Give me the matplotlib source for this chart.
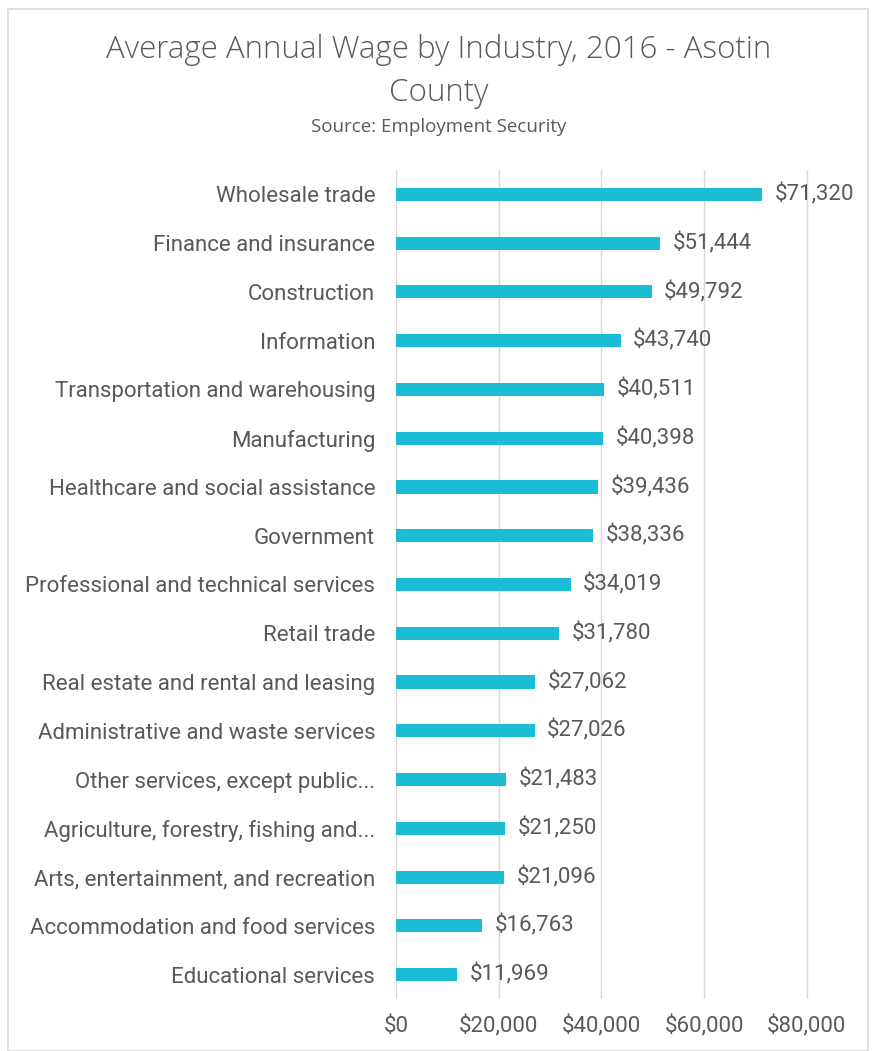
import matplotlib
matplotlib.use('Agg')
import matplotlib.pyplot as plt
from matplotlib.patches import Rectangle

# --- DATA ---
industries = ["Wholesale trade", "Finance and insurance", "Construction", "Information",
              "Transportation and warehousing", "Manufacturing", "Healthcare and social assistance",
              "Government", "Professional and technical services", "Retail trade",
              "Real estate and rental and leasing", "Administrative and waste services",
              "Other services, except public...", "Agriculture, forestry, fishing and...",
              "Arts, entertainment, and recreation", "Accommodation and food services",
              "Educational services"]
wages = [71320, 51444, 49792, 43740, 40511, 40398, 39436, 38336, 34019, 31780,
         27062, 27026, 21483, 21250, 21096, 16763, 11969]
x_ticks = [0, 20000, 40000, 60000, 80000]

BAR_COLOR = '#1bbcd6'
TEXT_COLOR = '#595959'
W, H = 877, 1051

fig = plt.figure(figsize=(W / 100, H / 100), dpi=100)

# chart frame
fig.patches.append(Rectangle((8 / W, 0), (868 - 8) / W, (H - 9) / H, transform=fig.transFigure,
                             fill=False, edgecolor='#d9d9d9', linewidth=1.2))

ax = fig.add_axes([396 / W, (H - 999) / H, (858 - 396) / W, (999 - 170) / H])
y = list(range(len(industries)))
ax.barh(y, wages, height=0.27, color=BAR_COLOR, zorder=3)
ax.set_ylim(len(industries) - 0.5, -0.5)
ax.set_xlim(0, 90000)

ax.set_xticks(x_ticks)
ax.set_xticklabels([f"${v:,}" for v in x_ticks], fontsize=16, color=TEXT_COLOR, family='Roboto')
ax.set_yticks(y)
ax.set_yticklabels(industries, fontsize=16, color=TEXT_COLOR, family='Roboto')
ax.tick_params(axis='both', length=0)
ax.tick_params(axis='y', pad=15)
ax.tick_params(axis='x', pad=12)
ax.grid(axis='x', color='#d9d9d9', linewidth=1, zorder=0)
for s in ax.spines.values():
    s.set_visible(False)

for yi, v in zip(y, wages):
    ax.annotate(f"${v:,}", (v, yi), xytext=(9, 0), textcoords='offset points',
                va='center', ha='left', fontsize=16, color=TEXT_COLOR, family='Roboto')

fig.text(0.5, (H - 50) / H, "Average Annual Wage by Industry, 2016 - Asotin", ha='center', va='center',
         fontsize=22.5, color=TEXT_COLOR, family='Open Sans', fontweight='light')
fig.text(0.5, (H - 93) / H, "County", ha='center', va='center',
         fontsize=22.5, color=TEXT_COLOR, family='Open Sans', fontweight='light')
fig.text(0.5, (H - 127) / H, "Source: Employment Security", ha='center', va='center',
         fontsize=13.5, color=TEXT_COLOR, family='Open Sans')

fig.savefig('out.png', dpi=100)
